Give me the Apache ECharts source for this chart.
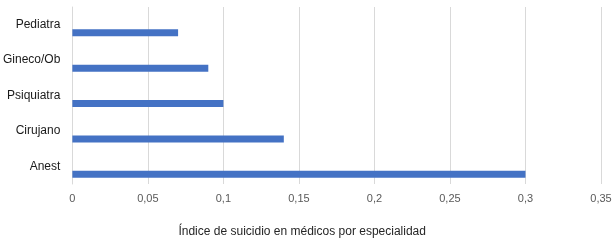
<!DOCTYPE html>
<html>
<head>
<meta charset="utf-8">
<script src="https://cdn.jsdelivr.net/npm/echarts@6/dist/echarts.min.js"></script>
<style>
html, body { margin: 0; padding: 0; background: #fff; }
#chart { width: 616px; height: 243px; }
</style>
</head>
<body>
<div id="chart"></div>
<script>
var categories = ['Anest', 'Cirujano', 'Psiquiatra', 'Gineco/Ob', 'Pediatra'];
var indices = [0.3, 0.14, 0.1, 0.09, 0.07];
var emptySeries = [null, null, null, null, null];

var myChart = echarts.init(document.getElementById('chart'));

var option = {
	animation: false,
	textStyle: { fontFamily: 'Liberation Sans, Arial, sans-serif' },
	grid: { left: 72, right: 15, top: 7, bottom: 55 },
	xAxis: {
		type: 'value',
		min: 0,
		max: 0.35,
		interval: 0.05,
		name: 'Índice de suicidio en médicos por especialidad',
		nameLocation: 'middle',
		nameGap: 42,
		nameTextStyle: { color: '#262626', fontSize: 12, padding: [0, 69, 0, 0] },
		axisLine: { show: false },
		axisTick: { show: false },
		axisLabel: {
			color: '#595959',
			fontSize: 11,
			margin: 9,
			formatter: function (v) { return String(+v.toFixed(2)).replace('.', ','); }
		},
		splitLine: { lineStyle: { color: '#d9d9d9' } }
	},
	yAxis: {
		type: 'category',
		data: categories,
		axisLine: { lineStyle: { color: '#d9d9d9' } },
		axisTick: { show: false },
		axisLabel: { color: '#1a1a1a', fontSize: 12, margin: 12, padding: [2, 0, 0, 0] }
	},
	series: [{
		type: 'bar',
		data: emptySeries,
		barWidth: 7,
		barGap: '130%'
	}, {
		type: 'bar',
		data: indices,
		barWidth: 7,
		itemStyle: { color: '#4472c4' }
	}]
};

myChart.setOption(option);
</script>
</body>
</html>
